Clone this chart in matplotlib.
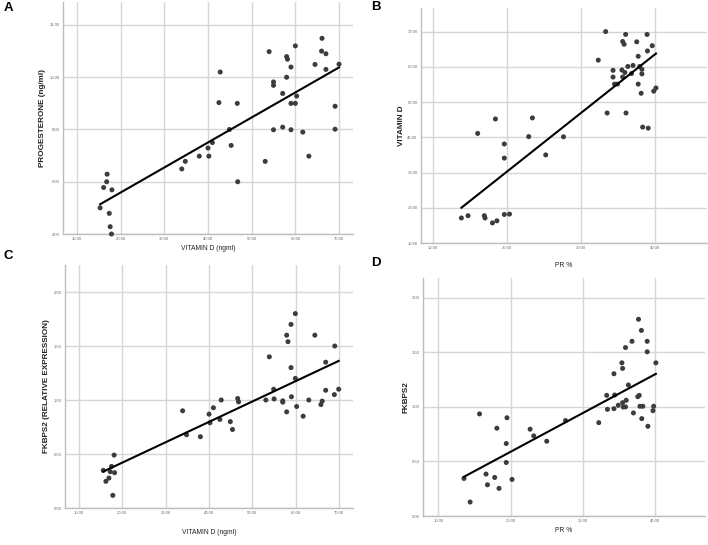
import matplotlib.pyplot as plt
import numpy as np

# ── Data ─────────────────────────────────────────────────────────────────────
# A: vitamin D vs progesterone
a_vitd = [15.3, 16.1, 16.9, 16.8, 17.4, 17.6, 17.9, 18.0, 34.0, 34.8, 38.0, 40.2,
          40.0, 41.0, 42.5, 42.8, 44.9, 45.3, 46.7, 46.8, 53.1, 54.0, 55.0, 55.0,
          55.0, 57.1, 57.1, 58.0, 58.2, 58.0, 59.0, 59.0, 59.0, 60.0, 60.0, 60.3,
          61.7, 63.1, 64.5, 66.1, 66.0, 67.0, 67.0, 69.1, 69.1, 70.0]
a_prog = [5.00, 5.78, 6.29, 6.00, 4.79, 4.28, 4.00, 5.69, 6.49, 6.78, 6.98, 6.98,
          7.29, 7.50, 9.03, 10.20, 8.00, 7.39, 9.00, 6.00, 6.78, 10.98, 9.82, 9.69,
          7.99, 9.38, 8.09, 10.79, 10.69, 10.00, 10.39, 9.00, 7.99, 11.20, 9.00, 9.28,
          7.90, 6.98, 10.49, 11.49, 11.00, 10.90, 10.30, 8.89, 8.01, 10.50]

# B: PR % vs vitamin D
b_pr = [13.8, 14.7, 16.0, 16.9, 17.0, 18.0, 18.4, 18.6, 19.6, 19.6, 19.6, 20.3,
        22.9, 23.4, 25.2, 27.6, 32.3, 33.3, 33.5, 34.3, 34.3, 34.5, 34.9, 35.5,
        35.6, 35.8, 35.6, 35.9, 36.0, 36.05, 36.3, 36.8, 37.0, 37.5, 37.7, 37.7,
        37.9, 38.2, 38.2, 38.1, 38.3, 38.9, 38.95, 39.05, 39.6, 39.8, 40.1]
b_vitd = [17.1, 17.75, 41.1, 17.75, 17.1, 15.7, 45.2, 16.3, 38.1, 34.1, 18.1, 18.2,
          40.2, 45.5, 35.0, 40.15, 61.9, 70.0, 46.9, 59.0, 57.1, 55.1, 55.1, 59.1,
          67.2, 66.4, 57.1, 58.4, 69.2, 46.9, 60.1, 58.1, 60.4, 67.1, 63.0, 55.1,
          60.1, 59.3, 58.0, 52.5, 42.9, 69.2, 64.5, 42.6, 66.0, 53.1, 54.0]

# C: vitamin D vs FKBPS2
c_vitd = [15.6, 16.2, 16.9, 17.2, 17.5, 17.8, 18.1, 18.2, 33.9, 34.8, 38.0, 40.0,
          40.2, 41.0, 42.5, 42.8, 44.9, 45.4, 46.6, 46.8, 53.1, 53.9, 54.9, 55.0,
          57.0, 57.0, 57.9, 58.2, 57.9, 58.9, 58.9, 59.0, 59.9, 59.9, 60.2, 61.7,
          63.0, 64.4, 65.8, 66.1, 66.9, 66.9, 69.0, 68.9, 69.9]
c_fkbp = [0.348, 0.247, 0.277, 0.336, 0.385, 0.117, 0.490, 0.327, 0.900, 0.678,
          0.660, 0.869, 0.789, 0.928, 0.820, 1.000, 0.800, 0.727, 1.014, 0.983,
          1.000, 1.400, 1.100, 1.010, 0.992, 0.980, 1.600, 1.540, 0.890, 1.700,
          1.300, 1.030, 1.800, 1.200, 0.940, 0.850, 1.000, 1.600, 0.958, 0.990,
          1.350, 1.090, 1.500, 1.050, 1.100]

# D: PR % vs FKBPS2
d_pr = [13.55, 14.4, 15.7, 16.6, 16.8, 17.8, 18.1, 18.4, 19.5, 19.4, 19.4, 20.2,
        22.7, 23.2, 25.0, 27.6, 32.2, 33.3, 33.4, 34.3, 34.3, 34.4, 34.9, 35.4,
        35.5, 35.5, 35.6, 35.9, 36.0, 35.9, 36.3, 36.8, 37.0, 37.6, 37.7, 37.8,
        37.9, 38.1, 38.3, 38.15, 38.9, 38.9, 39.0, 39.7, 39.8, 40.1]
d_fkbp = [0.344, 0.128, 0.935, 0.384, 0.286, 0.353, 0.804, 0.253, 0.900, 0.664,
          0.490, 0.335, 0.795, 0.734, 0.685, 0.874, 0.855, 1.105, 0.977, 1.303,
          0.983, 1.108, 1.014, 1.403, 1.352, 1.038, 0.998, 1.543, 1.060, 1.000,
          1.200, 1.600, 0.944, 1.093, 1.802, 1.105, 1.005, 1.700, 1.005, 0.892,
          1.600, 1.504, 0.822, 0.965, 1.005, 1.403]

# ── Panel setup ──────────────────────────────────────────────────────────────
# axes box in px [left, top, right, bottom]; label offsets in px
W, H = 708, 545
PANELS = [
    dict(letter="A", x=a_vitd, y=a_prog, xlab="VITAMIN D (ngml)", ylab="PROGESTERONE (ng/ml)",
         box=(63, 2, 353, 234), xlim=(6.8, 73.2), ylim=(4.0, 12.88),
         xt=[10, 20, 30, 40, 50, 60, 70], yt=[4, 6, 8, 10, 12],
         letter_pos=(4, 8), xlab_off=15, ylab_off=21),
    dict(letter="B", x=b_pr, y=b_vitd, xlab="PR %", ylab="VITAMIN D",
         box=(421, 8, 707, 243), xlim=(8.34, 47.0), ylim=(10.0, 76.7),
         xt=[10, 20, 30, 40], yt=[10, 20, 30, 40, 50, 60, 70],
         letter_pos=(371, 7), xlab_off=22, ylab_off=20),
    dict(letter="C", x=c_vitd, y=c_fkbp, xlab="VITAMIN D (ngml)", ylab="FKBPS2 (RELATIVE EXPRESSION)",
         box=(65, 265, 353, 508), xlim=(6.77, 73.2), ylim=(0.0, 2.25),
         xt=[10, 20, 30, 40, 50, 60, 70], yt=[0, 0.5, 1.0, 1.5, 2.0],
         letter_pos=(3, 256), xlab_off=24, ylab_off=18),
    dict(letter="D", x=d_pr, y=d_fkbp, xlab="PR %", ylab="FKBPS2",
         box=(423, 278, 705, 516), xlim=(7.88, 46.9), ylim=(0.0, 2.18),
         xt=[10, 20, 30, 40], yt=[0, 0.5, 1.0, 1.5, 2.0],
         letter_pos=(371, 263), xlab_off=15, ylab_off=17),
]

GRID = "#d6d6d6"
SPINE = "#bdbdbd"
DOT = "#3c3c3c"
TICK = "#6a6a6a"
FONT = ["Liberation Sans", "DejaVu Sans"]

fig = plt.figure(figsize=(W / 100, H / 100), dpi=100)
fig.patch.set_facecolor("white")

for p in PANELS:
    l, t, r, b = p["box"]
    wpx, hpx = r - l, b - t
    ax = fig.add_axes([l / W, 1 - b / H, wpx / W, hpx / H])

    xs = np.asarray(p["x"])
    ys = np.asarray(p["y"])

    ax.scatter(xs, ys, s=13, color=DOT, edgecolors="none", zorder=3, clip_on=False)

    # Linear fit line
    k, c0 = np.polyfit(xs, ys, 1)
    xl = np.array([xs.min(), xs.max()])
    ax.plot(xl, k * xl + c0, color="black", linewidth=1.5, zorder=4)

    ax.set_xlim(*p["xlim"])
    ax.set_ylim(*p["ylim"])
    ax.set_xticks(p["xt"])
    ax.set_yticks(p["yt"])
    ax.set_xticklabels([f"{v:.2f}" for v in p["xt"]], family=FONT)
    ax.set_yticklabels([f"{v:.2f}" for v in p["yt"]], family=FONT)
    ax.tick_params(length=0, labelsize=3.0, colors=TICK, pad=2.5)

    ax.grid(True, color=GRID, linewidth=1.0, zorder=0)
    ax.set_axisbelow(True)

    for sp in ["top", "right"]:
        ax.spines[sp].set_visible(False)
    for sp in ["left", "bottom"]:
        ax.spines[sp].set_color(SPINE)
        ax.spines[sp].set_linewidth(1.0)

    ax.set_xlabel(p["xlab"], fontsize=4.9, color="#222222", family=FONT, va="center")
    ax.xaxis.set_label_coords(0.5, -p["xlab_off"] / hpx)
    ax.set_ylabel(p["ylab"], fontsize=5.9, color="#222222", fontweight="bold",
                  family=FONT, va="center")
    ax.yaxis.set_label_coords(-p["ylab_off"] / wpx, 0.5)

    lx, ly = p["letter_pos"]
    fig.text(lx / W, 1 - ly / H, p["letter"], fontsize=9.5, fontweight="bold",
             family=FONT, ha="left", va="center")

plt.savefig("out.png", dpi=100, facecolor=fig.get_facecolor())
